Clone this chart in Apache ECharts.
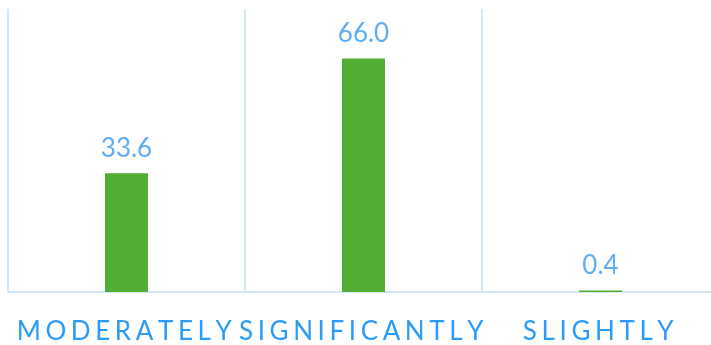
<!DOCTYPE html>
<html>
<head>
<meta charset="utf-8">
<script src="https://cdn.jsdelivr.net/npm/echarts@6/dist/echarts.min.js"></script>
<style>
  html, body { margin: 0; padding: 0; background: #fff; }
  #wrap { width: 711px; height: 345px; overflow: hidden; position: relative; }
  #chart { width: 719px; height: 345px; }
</style>
</head>
<body>
<div id="wrap"><div id="chart"></div></div>
<script>
// Share of responses by degree of change
const categories = ['MODERATELY', 'SIGNIFICANTLY', 'SLIGHTLY'];
const values = [33.6, 66.0, 0.4];

// one rich-text token per letter, so the capitals get tracked apart
const tracked = s => s.split('').map(ch => '{c|' + ch + '}').join('');

const chart = echarts.init(document.getElementById('chart'), null, { renderer: 'canvas' });
chart.setOption({
  animation: false,
  grid: { left: 8, top: 9, right: 0, bottom: 49.5, containLabel: false },
  xAxis: {
    type: 'category',
    data: categories,
    axisLine: { show: true, lineStyle: { color: '#d3e7fb', width: 2 } },
    axisTick: { show: false },
    splitLine: { show: true, lineStyle: { color: '#d3e7fb', width: 2 } },
    axisLabel: {
      interval: 0,
      margin: 27,
      formatter: v => tracked(v),
      rich: {
        c: {
          color: '#2c9bf7',
          fontFamily: 'Lato',
          fontSize: 26,
          padding: [0, 4.6, 0, 0]
        }
      }
    }
  },
  yAxis: {
    type: 'value',
    min: 0,
    max: 80,
    show: false,
    splitLine: { show: false }
  },
  series: [{
    type: 'bar',
    data: values,
    barWidth: 43,
    itemStyle: { color: '#52ae32' },
    label: {
      show: true,
      position: 'top',
      distance: 12,
      color: '#5eaef5',
      fontFamily: 'Lato',
      fontSize: 26,
      formatter: p => p.value.toFixed(1)
    }
  }]
});
</script>
</body>
</html>
